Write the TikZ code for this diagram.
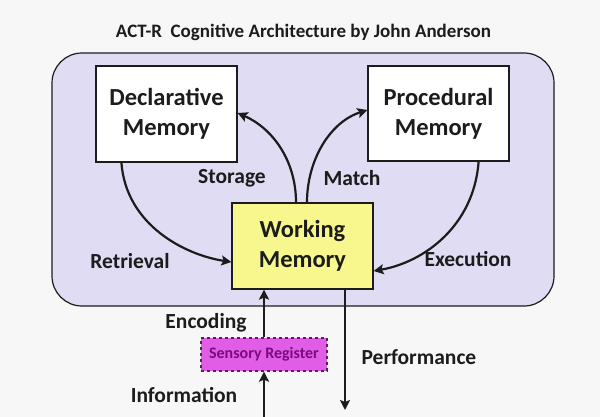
\documentclass[tikz,border=0pt]{standalone}
\usepackage{fontspec}
\setmainfont{Carlito}
\usetikzlibrary{arrows.meta}
\definecolor{bg}{HTML}{F7F7F7}
\definecolor{lav}{HTML}{DFDCF3}
\definecolor{wmyellow}{HTML}{F8F78E}
\definecolor{srfill}{HTML}{E25DE6}
\definecolor{srborder}{HTML}{5A1F5A}
\definecolor{srtext}{HTML}{7A0A80}
\definecolor{ink}{HTML}{1C1C1C}
\begin{document}
\begin{tikzpicture}[x=1pt,y=-1pt,
  membox/.style={draw=ink,line width=1.2pt,minimum width=141pt,align=center,
    font=\fontsize{24.5}{30}\selectfont\bfseries,text=ink,inner sep=0pt},
  lbl/.style={font=\fontsize{21.5}{24}\selectfont\bfseries,text=ink},
  flow/.style={draw=ink,line width=2.2pt,-{Stealth[length=10pt,width=10pt,inset=2pt]}}]
\useasboundingbox (0,0) rectangle (600,417);
\fill[bg] (0,0) rectangle (600,417);
\node[font=\fontsize{19}{22}\selectfont\bfseries,text=ink,anchor=base] (title) at (303.5,38) {ACT-R\ \ Cognitive Architecture by John Anderson};
\draw[draw=ink,line width=1.2pt,fill=lav,rounded corners=30pt] (52,53) rectangle (554,306);
\node[membox,fill=white,minimum height=96pt] (dm) at (166.5,114) {Declarative\\Memory};
\node[membox,fill=white,minimum height=95pt] (pm) at (438.5,113.5) {Procedural\\Memory};
\node[membox,fill=wmyellow,minimum height=86pt] (wm) at (302.5,246) {Working\\Memory};
\node[draw=srborder,dashed,line width=1.3pt,fill=srfill,minimum width=126pt,minimum height=33pt,
  inner sep=0pt,font=\fontsize{16}{18}\selectfont\bfseries,text=srtext] (sr) at (264,354.5) {Sensory Register};
% connectors
\draw[flow] ([xshift=26pt]dm.south west) .. controls (126,225) and (185,255) .. ([yshift=-16pt]wm.west);
\draw[flow] ([xshift=-31pt]pm.south east) .. controls (474,225) and (425,262) .. ([yshift=-25pt]wm.east);
\draw[flow] ([xshift=-6.5pt]wm.north) .. controls (296,160) and (272,128) .. ([yshift=1pt]dm.east);
\draw[flow] ([xshift=4.5pt]wm.north) .. controls (307,160) and (330,122) .. ([yshift=3.5pt]pm.west);
\draw[flow] (sr.north) -- (sr.north |- wm.south);
\coordinate (info) at (264,417);
\draw[flow] (info) -- (sr.south);
\coordinate (perfend) at (345,410);
\draw[flow] ([xshift=42.5pt]wm.south) -- (perfend);
% labels
\node[lbl] (storage) at (232,178) {Storage};
\node[lbl] (match) at (352,178) {Match};
\node[lbl] (retrieval) at (130,261) {Retrieval};
\node[lbl] (execution) at (468,259) {Execution};
\node[lbl] (encoding) at (206,323) {Encoding};
\node[lbl] (information) at (184,395) {Information};
\node[lbl] (performance) at (419,357) {Performance};
\end{tikzpicture}
\end{document}
